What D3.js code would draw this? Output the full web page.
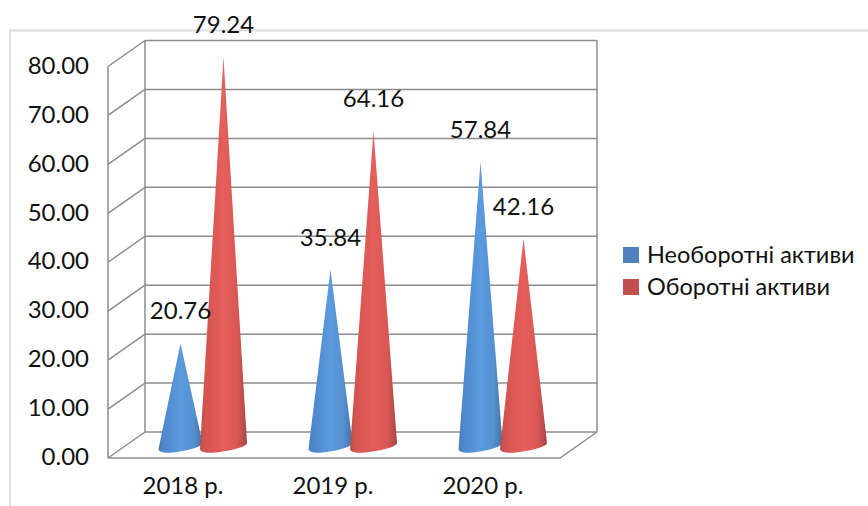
<!DOCTYPE html>
<html>
<head>
<meta charset="utf-8">
<script src="https://d3js.org/d3.v7.min.js"></script>
<style>
html,body{margin:0;padding:0;background:#fff;}
svg{display:block;}
text{font-family:Lato,"Open Sans",sans-serif;fill:#111;}
</style>
</head>
<body>
<svg width="868" height="506"></svg>
<script>
const categories = ['2018 р.','2019 р.','2020 р.'];
const seriesNames = ['Необоротні активи','Оборотні активи'];
const fixedAssets = [20.76,35.84,57.84];
const currentAssets = [79.24,64.16,42.16];
const yTicks = [0,10,20,30,40,50,60,70,80];

const svg = d3.select('svg');
const fontSize = 24;
const gridColor = '#8c8c8c';

// depth of the fake 3d box
const depthX = 37, depthY = 26;
const front = { left:108, right:560, bottom:458, top:66.5 };

const yscale = d3.scaleLinear().domain([0,80]).range([front.bottom,front.top]);
const xscale = d3.scaleBand().domain(categories).range([front.left,front.left+450]);
const serieScale = d3.scaleBand().domain([0,1]).range([-21,65]);

const backY = v => yscale(v)-depthY;
const coneY = v => yscale(v)-depthY/2;
const coneX = (cat,i) => xscale(cat)+xscale.bandwidth()/2+depthX/2+serieScale(i);

// frame around the chart
svg.append('path')
    .attr('d','M10,506V30.5H868')
    .attr('fill','none')
    .attr('stroke','#dedede')
    .attr('stroke-width',2);

const defs = svg.append('defs');
const addGradient = (id,stops) => {
    defs.append('linearGradient').attr('id',id)
        .selectAll('stop').data(stops).enter().append('stop')
            .attr('offset',d=>d[0])
            .attr('stop-color',d=>d[1]);
};
addGradient('blueCone',[[0,'#4b7fbd'],[0.12,'#4f88cc'],[0.5,'#5b9ade'],[0.8,'#5590d0'],[0.93,'#4a7cb4'],[1,'#3f6b9e']]);
addGradient('redCone',[[0,'#b94d4a'],[0.12,'#d45451'],[0.5,'#e55f5c'],[0.8,'#d85754'],[0.93,'#b94d4a'],[1,'#a04240']]);

// walls and floor
const walls = svg.append('g')
    .attr('fill','none')
    .attr('stroke',gridColor)
    .attr('stroke-width',1.5);

walls.selectAll('.back').data(yTicks).enter().append('line')
    .attr('class','back')
    .attr('x1',front.left+depthX).attr('x2',front.right+depthX)
    .attr('y1',backY).attr('y2',backY);

walls.selectAll('.side').data(yTicks).enter().append('line')
    .attr('class','side')
    .attr('x1',front.left).attr('x2',front.left+depthX)
    .attr('y1',yscale).attr('y2',backY);

walls.append('line')
    .attr('x1',front.left).attr('x2',front.left)
    .attr('y1',yscale(80)).attr('y2',yscale(0));
walls.append('line')
    .attr('x1',front.left+depthX).attr('x2',front.left+depthX)
    .attr('y1',backY(80)).attr('y2',backY(0));
walls.append('line')
    .attr('x1',front.right+depthX).attr('x2',front.right+depthX)
    .attr('y1',backY(80)).attr('y2',backY(0));
walls.append('path')
    .attr('d',`M${front.left},${yscale(0)}H${front.right}L${front.right+depthX},${backY(0)}`);

// cones
const conePath = (cx,value,halfWidth) => {
    const base = coneY(0);
    const l = cx-halfWidth, r = cx+halfWidth;
    return `M${cx},${coneY(value)}L${r},${base-2}`
        +`C${r},${base+3} ${l+halfWidth*0.7},${base+9} ${l+halfWidth*0.25},${base+7.5}`
        +`C${l+halfWidth*0.1},${base+7} ${l},${base+6} ${l},${base+4}Z`;
};

const drawCones = (values,i,halfWidth,fill) => {
    svg.append('g').selectAll('path').data(values).enter().append('path')
        .attr('d',(d,j)=>conePath(coneX(categories[j],i),d,halfWidth))
        .attr('fill',`url(#${fill})`);
};
drawCones(fixedAssets,0,22,'blueCone');
drawCones(currentAssets,1,23.5,'redCone');

// y axis
const yAxis = d3.axisLeft(yscale)
    .tickValues(yTicks)
    .tickFormat(d3.format('.2f'))
    .tickSize(0)
    .tickPadding(19);
const yAxisG = svg.append('g')
    .attr('transform',`translate(${front.left},-1)`)
    .call(yAxis);
yAxisG.select('.domain').remove();
yAxisG.selectAll('text').attr('font-size',fontSize).attr('font-family',null).attr('fill',null);

// x axis
const xAxisG = svg.append('g')
    .attr('transform',`translate(0,${front.bottom})`)
    .call(d3.axisBottom(xscale).tickSize(0).tickPadding(19));
xAxisG.select('.domain').remove();
xAxisG.selectAll('text').attr('font-size',fontSize).attr('font-family',null).attr('fill',null);

// value labels
const labels = (values,i) => {
    svg.append('g').selectAll('text').data(values).enter().append('text')
        .attr('x',(d,j)=>coneX(categories[j],i))
        .attr('y',d=>coneY(d)-24)
        .attr('text-anchor','middle')
        .attr('font-size',fontSize)
        .text(d=>d3.format('.2f')(d));
};
labels(fixedAssets,0);
labels(currentAssets,1);

// legend
const legendColor = d3.scaleOrdinal().domain(seriesNames).range(['#4f81bd','#c0504d']);
const legend = svg.append('g').selectAll('g').data(seriesNames).enter().append('g')
    .attr('transform',(d,i)=>`translate(623,${247+i*32})`);
legend.append('rect')
    .attr('width',16).attr('height',16)
    .attr('fill',legendColor);
legend.append('text')
    .attr('x',24).attr('y',16)
    .attr('font-size',23.5)
    .text(d=>d);
</script>
</body>
</html>
